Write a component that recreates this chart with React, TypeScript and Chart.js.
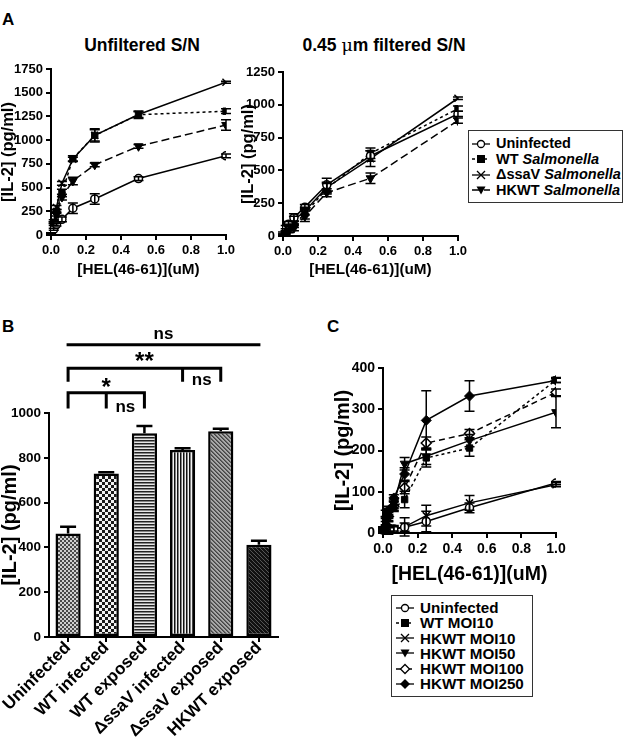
import React, { useEffect, useRef } from 'react';
import { Chart, registerables } from 'chart.js';
Chart.register(...registerables);

const FONT = '"Liberation Sans", Arial, Helvetica, sans-serif';

// ---------- DATA ----------
const helConc = [0, 0.0156, 0.03125, 0.0625, 0.125, 0.25, 0.5, 1];

// Panel A — unfiltered S/N
const aUnfUninfected = [10, 60, 110, 165, 282, 380, 595, 835];
const aUnfUninfectedErr = [5, 10, 15, 25, 55, 55, 20, 20];
const aUnfWT = [20, 130, 250, 443, 805, 1050, 1268, 1305];
const aUnfWTErr = [5, 10, 20, 40, 30, 70, 40, 25];
const aUnfSsaV = [20, 150, 290, 545, 800, 1050, 1270, 1610];
const aUnfSsaVErr = [5, 10, 20, 20, 20, 60, 30, 10];
const aUnfHKWT = [15, 110, 220, 400, 570, 740, 935, 1160];
const aUnfHKWTErr = [5, 10, 20, 30, 40, 20, 20, 55];

// Panel A — 0.45 um filtered S/N
const aFilUninfected = [20, 60, 90, 140, 220, 390, 610, 930];
const aFilUninfectedErr = [10, 20, 20, 30, 20, 50, 40, 20];
const aFilWT = [10, 30, 60, 90, 170, 360, 630, 970];
const aFilWTErr = [5, 10, 20, 25, 40, 40, 40, 20];
const aFilSsaV = [10, 40, 70, 120, 190, 370, 590, 1050];
const aFilSsaVErr = [5, 15, 20, 30, 30, 40, 60, 10];
const aFilHKWT = [5, 20, 40, 60, 150, 330, 440, 880];
const aFilHKWTErr = [5, 10, 15, 20, 40, 30, 40, 20];

const aSeriesNames = ['Uninfected', 'WT', 'ΔssaV', 'HKWT'];
const aSeriesItalic = ['', 'Salmonella', 'Salmonella', 'Salmonella'];

// Panel B
const bCategories = ['Uninfected', 'WT infected', 'WT exposed', 'ΔssaV infected', 'ΔssaV exposed', 'HKWT exposed'];
const bValues = [462, 730, 910, 835, 918, 412];
const bErrors = [30, 6, 32, 8, 12, 18];
const bPatterns = ['fineCheck', 'coarseCheck', 'hStripes', 'vStripes', 'diagGray', 'diagDark'];
const bYTicks = { min: 0, max: 1000, step: 200 };
// significance brackets (category indices, y in pg/ml units)
const bBrackets = [
  { from: 0, to: 5, y: 1305, drops: [] as number[], dropTo: 1305, label: 'ns', labelAt: 2.5, labelY: 1350, big: false },
  { from: 0, to: 4, y: 1200, drops: [0, 3, 4], dropTo: 1140, label: '**', labelAt: 2, labelY: 1228, big: true },
  { from: 0, to: 2, y: 1090, drops: [0, 1, 2], dropTo: 1020, label: '*', labelAt: 1, labelY: 1110, big: true },
];
const bInnerLabels = [
  { at: 3.5, y: 1145, label: 'ns' },
  { at: 1.5, y: 1027, label: 'ns' },
];

// Panel C
const cUninfected = [2, 5, 8, 10, 14, 28, 61, 121];
const cUninfectedErr = [2, 3, 5, 5, 10, 25, 12, 4];
const cWTMOI10 = [5, 25, 45, 60, 81, 182, 206, 371];
const cWTMOI10Err = [3, 10, 10, 8, 20, 22, 20, 6];
const cHKMOI10 = [3, 8, 12, 10, 15, 42, 73, 117];
const cHKMOI10Err = [3, 10, 15, 8, 22, 25, 18, 5];
const cHKMOI50 = [10, 30, 50, 70, 168, 186, 224, 293];
const cHKMOI50Err = [5, 10, 10, 10, 15, 20, 15, 38];
const cHKMOI100 = [8, 20, 40, 65, 110, 218, 241, 341];
const cHKMOI100Err = [3, 8, 10, 10, 15, 15, 10, 8];
const cHKMOI250 = [10, 47, 55, 85, 143, 273, 332, 370];
const cHKMOI250Err = [3, 8, 10, 8, 15, 72, 37, 5];

const cSeriesNames = ['Uninfected', 'WT MOI10', 'HKWT MOI10', 'HKWT MOI50', 'HKWT MOI100', 'HKWT MOI250'];

// ---------- STYLE ----------
type Mk = 'circleOpen' | 'square' | 'cross' | 'triDown' | 'diamondOpen' | 'diamondFilled';

function markerProps(m: Mk) {
  switch (m) {
    case 'circleOpen': return { pointStyle: 'circle', pointRadius: 4, pointBackgroundColor: '#fff', pointRotation: 0, pointBorderWidth: 1.5 };
    case 'square': return { pointStyle: 'rect', pointRadius: 4.5, pointBackgroundColor: '#000', pointRotation: 0, pointBorderWidth: 1 };
    case 'cross': return { pointStyle: 'crossRot', pointRadius: 5, pointBackgroundColor: '#000', pointRotation: 0, pointBorderWidth: 1.5 };
    case 'triDown': return { pointStyle: 'triangle', pointRadius: 5, pointBackgroundColor: '#000', pointRotation: 180, pointBorderWidth: 1 };
    case 'diamondOpen': return { pointStyle: 'rectRot', pointRadius: 5, pointBackgroundColor: '#fff', pointRotation: 0, pointBorderWidth: 1.5 };
    case 'diamondFilled': return { pointStyle: 'rectRot', pointRadius: 5, pointBackgroundColor: '#000', pointRotation: 0, pointBorderWidth: 1 };
  }
}

function lineDs(label: string, ys: number[], errs: number[], m: Mk, dash: number[]) {
  return {
    label,
    data: helConc.map((x, i) => ({ x, y: ys[i] })),
    errors: errs,
    borderColor: '#000',
    borderWidth: 1.5,
    borderDash: dash,
    pointBorderColor: '#000',
    fill: false,
    tension: 0,
    ...markerProps(m),
  };
}

const errorBarPlugin = {
  id: 'errorBars',
  afterDatasetsDraw(chart: any) {
    const ctx = chart.ctx;
    const ys = chart.scales.y;
    chart.data.datasets.forEach((ds: any, i: number) => {
      if (!ds.errors) return;
      const meta = chart.getDatasetMeta(i);
      meta.data.forEach((el: any, j: number) => {
        const e = ds.errors[j];
        if (!e) return;
        const raw = ds.data[j];
        const v = typeof raw === 'number' ? raw : raw.y;
        const top = ys.getPixelForValue(v + e);
        const bot = ds.upOnly ? el.y : ys.getPixelForValue(v - e);
        const cw = ds.capWidth || 5;
        ctx.save();
        ctx.strokeStyle = '#000';
        ctx.lineWidth = ds.errWidth || 1.5;
        ctx.setLineDash([]);
        ctx.beginPath();
        ctx.moveTo(el.x, top); ctx.lineTo(el.x, bot);
        ctx.moveTo(el.x - cw, top); ctx.lineTo(el.x + cw, top);
        if (!ds.upOnly) { ctx.moveTo(el.x - cw, bot); ctx.lineTo(el.x + cw, bot); }
        ctx.stroke();
        ctx.restore();
      });
    });
  },
};

const bracketPlugin = {
  id: 'brackets',
  afterDraw(chart: any) {
    const ctx = chart.ctx;
    const xs = chart.scales.x, ys = chart.scales.y;
    const xp = (c: number) => xs.getPixelForValue(c);
    ctx.save();
    ctx.strokeStyle = '#000';
    ctx.fillStyle = '#000';
    ctx.lineWidth = 3;
    ctx.lineCap = 'butt';
    bBrackets.forEach((b) => {
      const y = ys.getPixelForValue(b.y);
      ctx.beginPath();
      ctx.moveTo(xp(b.from) - 1.5, y); ctx.lineTo(xp(b.to) + 1.5, y);
      b.drops.forEach((d) => { ctx.moveTo(xp(d), y); ctx.lineTo(xp(d), ys.getPixelForValue(b.dropTo)); });
      ctx.stroke();
      ctx.textAlign = 'center';
      ctx.textBaseline = 'middle';
      ctx.font = `bold ${b.big ? 24 : 17}px ${FONT}`;
      ctx.fillText(b.label, xp(b.labelAt), ys.getPixelForValue(b.labelY));
    });
    bInnerLabels.forEach((l) => {
      ctx.font = `bold 17px ${FONT}`;
      ctx.textAlign = 'center';
      ctx.textBaseline = 'middle';
      ctx.fillText(l.label, xp(l.at), ys.getPixelForValue(l.y));
    });
    ctx.restore();
  },
};

function axisCommon(size: number) {
  return {
    ticks: { color: '#000', font: { family: FONT, size, weight: 'bold' as const }, padding: 3 },
    grid: { drawOnChartArea: false, color: '#000', lineWidth: 2, tickLength: 5 },
    border: { color: '#000', width: 2 },
  };
}

function lineConfig(o: { datasets: any[]; yMax: number; yStep: number; yWidth: number; xHeight: number; pad: any; tick: number; title: number; xTitle: number }) {
  return {
    type: 'line' as const,
    data: { datasets: o.datasets },
    plugins: [errorBarPlugin],
    options: {
      animation: false as const,
      responsive: false,
      devicePixelRatio: 1,
      layout: { padding: o.pad },
      plugins: { legend: { display: false }, tooltip: { enabled: false } },
      scales: {
        x: {
          type: 'linear' as const, min: 0, max: 1,
          ...axisCommon(o.tick),
          ticks: { ...axisCommon(o.tick).ticks, stepSize: 0.2, callback: (v: any) => Number(v).toFixed(1) },
          title: { display: true, text: '[HEL(46-61)](uM)', color: '#000', font: { family: FONT, size: o.xTitle, weight: 'bold' as const }, padding: { top: 4, bottom: 0 } },
          afterFit: (s: any) => { s.height = o.xHeight; },
        },
        y: {
          type: 'linear' as const, min: 0, max: o.yMax,
          ...axisCommon(o.tick),
          ticks: { ...axisCommon(o.tick).ticks, stepSize: o.yStep, callback: (v: any) => String(v) },
          title: { display: true, text: '[IL-2] (pg/ml)', color: '#000', font: { family: FONT, size: o.title, weight: 'bold' as const, lineHeight: 1 }, padding: { top: 0, bottom: 2 } },
          afterFit: (s: any) => { s.width = o.yWidth; },
        },
      },
    },
  };
}

function makePattern(kind: string): any {
  const c = document.createElement('canvas');
  const g = c.getContext('2d')!;
  const px = (x: number, y: number, col: string) => { g.fillStyle = col; g.fillRect(x, y, 1, 1); };
  if (kind === 'fineCheck') {
    c.width = 4; c.height = 4;
    g.fillStyle = '#d0d0d0'; g.fillRect(0, 0, 4, 4);
    g.fillStyle = '#4a4a4a'; g.fillRect(0, 0, 2, 2); g.fillRect(2, 2, 2, 2);
  } else if (kind === 'coarseCheck') {
    c.width = 6; c.height = 6;
    g.fillStyle = '#f2f2f2'; g.fillRect(0, 0, 6, 6);
    g.fillStyle = '#1a1a1a'; g.fillRect(0, 0, 3, 3); g.fillRect(3, 3, 3, 3);
  } else if (kind === 'hStripes') {
    c.width = 3; c.height = 3;
    g.fillStyle = '#e8e8e8'; g.fillRect(0, 0, 3, 3);
    g.fillStyle = '#222'; g.fillRect(0, 0, 3, 1.5);
  } else if (kind === 'vStripes') {
    c.width = 3; c.height = 3;
    g.fillStyle = '#f2f2f2'; g.fillRect(0, 0, 3, 3);
    g.fillStyle = '#111'; g.fillRect(0, 0, 1.5, 3);
  } else if (kind === 'diagGray') {
    c.width = 4; c.height = 4;
    g.fillStyle = '#a8a8a8'; g.fillRect(0, 0, 4, 4);
    for (let i = 0; i < 4; i++) { px(i, i, '#444'); px((i + 1) % 4, i, '#666'); }
  } else {
    c.width = 4; c.height = 4;
    g.fillStyle = '#111'; g.fillRect(0, 0, 4, 4);
    for (let i = 0; i < 4; i++) { px(i, i, '#555'); }
  }
  return g.createPattern(c, 'repeat');
}

function barConfig() {
  return {
    type: 'bar' as const,
    data: {
      labels: bCategories,
      datasets: [{
        data: bValues,
        errors: bErrors,
        upOnly: true,
        capWidth: 8,
        errWidth: 2.5,
        backgroundColor: bPatterns.map(makePattern),
        borderColor: '#000',
        borderWidth: 2.5,
        borderSkipped: false,
        categoryPercentage: 1,
        barPercentage: 0.66,
      }],
    },
    plugins: [errorBarPlugin, bracketPlugin],
    options: {
      animation: false as const,
      responsive: false,
      devicePixelRatio: 1,
      layout: { padding: { top: 93, right: 22, left: 0, bottom: 0 } },
      plugins: { legend: { display: false }, tooltip: { enabled: false } },
      scales: {
        x: {
          type: 'category' as const,
          ...axisCommon(17),
          grid: { ...axisCommon(17).grid, offset: false },
          ticks: { ...axisCommon(17).ticks, minRotation: 45, maxRotation: 45, autoSkip: false, padding: -4 },
          afterFit: (s: any) => { s.height = 104; },
        },
        y: {
          min: bYTicks.min, max: bYTicks.max,
          ...axisCommon(13.5),
          ticks: { ...axisCommon(13.5).ticks, stepSize: bYTicks.step, callback: (v: any) => String(v) },
          title: { display: true, text: '[IL-2] (pg/ml)', color: '#000', font: { family: FONT, size: 20, weight: 'bold' as const, lineHeight: 1 }, padding: { top: 0, bottom: 2 } },
          afterFit: (s: any) => { s.width = 49; },
        },
      },
    },
  };
}

function ChartCanvas(p: { left: number; top: number; width: number; height: number; make: () => any }) {
  const ref = useRef<HTMLCanvasElement>(null);
  useEffect(() => {
    const chart = new Chart(ref.current!, p.make());
    return () => chart.destroy();
  }, []);
  return <canvas ref={ref} width={p.width} height={p.height} style={{ position: 'absolute', left: p.left, top: p.top, width: p.width, height: p.height }} />;
}

function Marker({ m, dash }: { m: Mk; dash: string }) {
  let shape: any = null;
  const cx = 9, cy = 7;
  if (m === 'circleOpen') shape = <circle cx={cx} cy={cy} r={3.5} fill="#fff" stroke="#000" strokeWidth={1.3} />;
  if (m === 'square') shape = <rect x={cx - 4} y={cy - 4} width={8} height={8} fill="#000" />;
  if (m === 'cross') shape = <path d={`M${cx - 4} ${cy - 4}L${cx + 4} ${cy + 4}M${cx - 4} ${cy + 4}L${cx + 4} ${cy - 4}`} stroke="#000" strokeWidth={1.3} />;
  if (m === 'triDown') shape = <path d={`M${cx - 4.5} ${cy - 3.5}L${cx + 4.5} ${cy - 3.5}L${cx} ${cy + 4.5}Z`} fill="#000" />;
  if (m === 'diamondOpen') shape = <path d={`M${cx} ${cy - 4.5}L${cx + 4.5} ${cy}L${cx} ${cy + 4.5}L${cx - 4.5} ${cy}Z`} fill="#fff" stroke="#000" strokeWidth={1.3} />;
  if (m === 'diamondFilled') shape = <path d={`M${cx} ${cy - 5}L${cx + 5} ${cy}L${cx} ${cy + 5}L${cx - 5} ${cy}Z`} fill="#000" />;
  return (
    <svg width={18} height={14} style={{ display: 'block' }}>
      <line x1={0} y1={cy} x2={18} y2={cy} stroke="#000" strokeWidth={1.3} strokeDasharray={dash} />
      {shape}
    </svg>
  );
}

const aMarkers: Mk[] = ['circleOpen', 'square', 'cross', 'triDown'];
const aDashes = [[], [3, 3], [], [8, 4]];
const cMarkers: Mk[] = ['circleOpen', 'square', 'cross', 'triDown', 'diamondOpen', 'diamondFilled'];
const cDashes = [[], [3, 3], [], [], [6, 4], []];

const txt: React.CSSProperties = { position: 'absolute', fontFamily: FONT, fontWeight: 'bold', color: '#000', whiteSpace: 'nowrap', lineHeight: 1 };

export default function App() {
  const aUnfSets = () => [
    lineDs('Uninfected', aUnfUninfected, aUnfUninfectedErr, aMarkers[0], aDashes[0]),
    lineDs('WT', aUnfWT, aUnfWTErr, aMarkers[1], aDashes[1]),
    lineDs('ΔssaV', aUnfSsaV, aUnfSsaVErr, aMarkers[2], aDashes[2]),
    lineDs('HKWT', aUnfHKWT, aUnfHKWTErr, aMarkers[3], aDashes[3]),
  ];
  const aFilSets = () => [
    lineDs('Uninfected', aFilUninfected, aFilUninfectedErr, aMarkers[0], aDashes[0]),
    lineDs('WT', aFilWT, aFilWTErr, aMarkers[1], aDashes[1]),
    lineDs('ΔssaV', aFilSsaV, aFilSsaVErr, aMarkers[2], aDashes[2]),
    lineDs('HKWT', aFilHKWT, aFilHKWTErr, aMarkers[3], aDashes[3]),
  ];
  const cSets = () => [
    lineDs(cSeriesNames[0], cUninfected, cUninfectedErr, cMarkers[0], cDashes[0]),
    lineDs(cSeriesNames[1], cWTMOI10, cWTMOI10Err, cMarkers[1], cDashes[1]),
    lineDs(cSeriesNames[2], cHKMOI10, cHKMOI10Err, cMarkers[2], cDashes[2]),
    lineDs(cSeriesNames[3], cHKMOI50, cHKMOI50Err, cMarkers[3], cDashes[3]),
    lineDs(cSeriesNames[4], cHKMOI100, cHKMOI100Err, cMarkers[4], cDashes[4]),
    lineDs(cSeriesNames[5], cHKMOI250, cHKMOI250Err, cMarkers[5], cDashes[5]),
  ];

  return (
    <div style={{ position: 'absolute', left: 0, top: 0, width: 624, height: 741, overflow: 'hidden', background: '#fff' }}>
      <div style={{ ...txt, left: 2, top: 11, fontSize: 17 }}>A</div>
      <div style={{ ...txt, left: 2, top: 318, fontSize: 17 }}>B</div>
      <div style={{ ...txt, left: 327, top: 318, fontSize: 17 }}>C</div>

      <div style={{ ...txt, left: 142, top: 37, fontSize: 17.5, transform: 'translateX(-50%)' }}>Unfiltered S/N</div>
      <div style={{ ...txt, left: 384, top: 37, fontSize: 17.5, transform: 'translateX(-50%)' }}>
        0.45 <span style={{ fontFamily: '"DejaVu Serif", serif', fontWeight: 'normal' }}>μ</span>m filtered S/N
      </div>

      <ChartCanvas left={0} top={55} width={240} height={224} make={() => lineConfig({ datasets: aUnfSets(), yMax: 1750, yStep: 250, yWidth: 51, xHeight: 44, pad: { top: 14, right: 14, left: 0, bottom: 0 }, tick: 13, title: 16.5, xTitle: 15.3 })} />
      <ChartCanvas left={240} top={55} width={230} height={224} make={() => lineConfig({ datasets: aFilSets(), yMax: 1250, yStep: 250, yWidth: 43, xHeight: 43, pad: { top: 17, right: 10, left: 0, bottom: 0 }, tick: 13, title: 16.5, xTitle: 15.3 })} />

      <div style={{ position: 'absolute', left: 468, top: 130, width: 153, height: 71, border: '1.5px solid #333', background: '#fff' }}>
        {aSeriesNames.map((n, i) => (
          <div key={n} style={{ position: 'absolute', left: 3, top: 5 + i * 15.5, display: 'flex', alignItems: 'center', height: 15 }}>
            <Marker m={aMarkers[i]} dash={aDashes[i].join(' ')} />
            <span style={{ ...txt, position: 'static', fontSize: 14.5, marginLeft: 6 }}>
              {n}{aSeriesItalic[i] ? ' ' : ''}<i>{aSeriesItalic[i]}</i>
            </span>
          </div>
        ))}
      </div>

      <ChartCanvas left={0} top={320} width={300} height={421} make={barConfig} />

      <ChartCanvas left={320} top={340} width={250} height={246} make={() => lineConfig({ datasets: cSets(), yMax: 400, yStep: 100, yWidth: 50, xHeight: 53, pad: { top: 28, right: 14, left: 13, bottom: 0 }, tick: 14, title: 20, xTitle: 19.5 })} />

      <div style={{ position: 'absolute', left: 391, top: 595, width: 140, height: 100, border: '1.5px solid #333', background: '#fff' }}>
        {cSeriesNames.map((n, i) => (
          <div key={n} style={{ position: 'absolute', left: 4, top: 4 + i * 15.3, display: 'flex', alignItems: 'center', height: 15 }}>
            <Marker m={cMarkers[i]} dash={cDashes[i].join(' ')} />
            <span style={{ ...txt, position: 'static', fontSize: 15.2, marginLeft: 6 }}>{n}</span>
          </div>
        ))}
      </div>
    </div>
  );
}
